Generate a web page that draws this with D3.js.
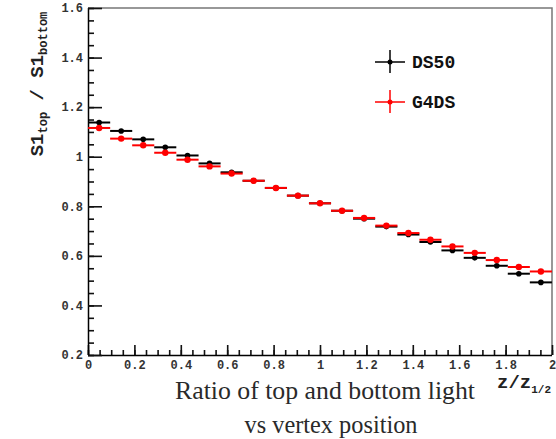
<!DOCTYPE html>
<html>
<head>
<meta charset="utf-8">
<script src="https://cdn.jsdelivr.net/npm/d3@7"></script>
<style>
  body { margin: 0; background: #fff; }
  svg { display: block; }
  .tick text { font-family: "Liberation Mono", monospace; font-weight: bold; font-size: 12px; fill: #333; }
  .tick line { stroke: #111; stroke-width: 1.6px; }
</style>
</head>
<body>
<div id="chart"></div>
<script>
// bin centres in z/z_1/2 (21 bins from 0 to 2)
const binCenters = [0.048, 0.143, 0.238, 0.333, 0.429, 0.524, 0.619, 0.714, 0.810, 0.905,
                    1.000, 1.095, 1.190, 1.286, 1.381, 1.476, 1.571, 1.667, 1.762, 1.857, 1.952];
const binHalfWidth = 1 / 21;

const ds50 = [1.138, 1.104, 1.070, 1.038, 1.005, 0.973, 0.937, 0.903, 0.874, 0.843,
              0.812, 0.782, 0.750, 0.718, 0.686, 0.656, 0.622, 0.592, 0.560, 0.528, 0.493];
const g4ds = [1.116, 1.073, 1.046, 1.016, 0.988, 0.961, 0.932, 0.903, 0.874, 0.843,
              0.812, 0.782, 0.753, 0.722, 0.692, 0.665, 0.638, 0.612, 0.583, 0.555, 0.537];

const xMajor = [0, 0.2, 0.4, 0.6, 0.8, 1, 1.2, 1.4, 1.6, 1.8, 2];
const yMajor = [0.2, 0.4, 0.6, 0.8, 1, 1.2, 1.4, 1.6];

const series = [
  { name: "DS50", color: "#000", values: ds50, r: 2.8 },
  { name: "G4DS", color: "#f00", values: g4ds, r: 3.2 }
];

const W = 556, H = 439;
const plot = { left: 88, right: 552, top: 8, bottom: 355 };

const svg = d3.select("#chart").append("svg")
    .attr("width", W)
    .attr("height", H);

const x = d3.scaleLinear().domain([0, 2]).range([plot.left, plot.right]);
const y = d3.scaleLinear().domain([0.2, 1.6]).range([plot.bottom, plot.top]);

// frame (top and right sides)
svg.append("path")
    .attr("d", `M${plot.left},${plot.top}H${plot.right}V${plot.bottom}`)
    .attr("fill", "none")
    .attr("stroke", "#777")
    .attr("stroke-width", 1.5);

// minor ticks
const fmt = d => d === 0 || d === 1 || d === 2 ? String(d) : d3.format(".1f")(d);
svg.append("g")
    .attr("transform", `translate(0,${plot.bottom})`)
    .call(d3.axisBottom(x).ticks(40).tickSize(-5).tickFormat(""))
    .call(g => g.select(".domain").remove());
svg.append("g")
    .attr("transform", `translate(${plot.left},0)`)
    .call(d3.axisLeft(y).ticks(28).tickSize(-6).tickFormat(""))
    .call(g => g.select(".domain").remove());

// major ticks + labels
const xAxis = svg.append("g")
    .attr("transform", `translate(0,${plot.bottom})`)
    .call(d3.axisBottom(x).tickValues(xMajor).tickSize(-10).tickPadding(14).tickFormat(fmt));
xAxis.select(".domain").attr("d", `M${plot.left},0.5H${plot.right}`).attr("stroke-width", 1.5);
xAxis.selectAll(".tick text").attr("dy", "0");

const yAxis = svg.append("g")
    .attr("transform", `translate(${plot.left},0)`)
    .call(d3.axisLeft(y).tickValues(yMajor).tickSize(-14).tickPadding(5).tickFormat(fmt));
yAxis.select(".domain").attr("d", `M0.5,${plot.top}V${plot.bottom}`).attr("stroke-width", 1.5);

// data: horizontal bin bars and markers
series.forEach(s => {
  const g = svg.append("g");
  g.selectAll("line")
    .data(s.values)
    .enter().append("line")
      .attr("x1", (d, i) => x(binCenters[i] - binHalfWidth))
      .attr("x2", (d, i) => x(binCenters[i] + binHalfWidth))
      .attr("y1", d => y(d))
      .attr("y2", d => y(d))
      .attr("stroke", s.color)
      .attr("stroke-width", 2);
  g.selectAll("circle")
    .data(s.values)
    .enter().append("circle")
      .attr("cx", (d, i) => x(binCenters[i]))
      .attr("cy", d => y(d))
      .attr("r", s.r)
      .attr("fill", s.color);
});

// legend
const legend = svg.append("g").attr("transform", "translate(390,62)");
series.forEach((s, i) => {
  const g = legend.append("g").attr("transform", `translate(0,${i * 40})`);
  g.append("line").attr("x1", -15).attr("x2", 15).attr("stroke", s.color).attr("stroke-width", 1.5);
  g.append("line").attr("y1", -12).attr("y2", 11).attr("stroke", s.color).attr("stroke-width", 1.5);
  g.append("circle").attr("r", 2.5).attr("fill", s.color);
  g.append("text")
      .attr("x", 22)
      .attr("dy", "0.35em")
      .attr("font-family", "Liberation Mono, monospace")
      .attr("font-weight", "bold")
      .attr("font-size", 18)
      .attr("fill", "#111")
      .text(s.name);
});

// y axis title
const yt = svg.append("text")
    .attr("transform", "translate(43,84) rotate(-90)")
    .attr("text-anchor", "middle")
    .attr("font-family", "Liberation Mono, monospace")
    .attr("font-weight", "bold")
    .attr("font-size", 19)
    .attr("fill", "#222");
yt.append("tspan").text("S1");
yt.append("tspan").attr("font-size", 12).attr("dy", 4).text("top");
yt.append("tspan").attr("dy", -4).text(" / S1");
yt.append("tspan").attr("font-size", 12).attr("dy", 4).text("bottom");

// x axis title
const xt = svg.append("text")
    .attr("x", 497)
    .attr("y", 388)
    .attr("font-family", "Liberation Mono, monospace")
    .attr("font-weight", "bold")
    .attr("font-size", 19)
    .attr("fill", "#222");
xt.append("tspan").text("z/z");
xt.append("tspan").attr("font-size", 11).attr("dy", 5).text("1/2");

// caption
const caption = ["Ratio of top and bottom light", "vs vertex position"];
const captionWidths = [300, 173];
svg.selectAll(".caption")
  .data(caption)
  .enter().append("text")
    .attr("class", "caption")
    .attr("x", (d, i) => i === 0 ? 325 : 331)
    .attr("y", (d, i) => 399 + i * 34)
    .attr("text-anchor", "middle")
    .attr("font-family", "Liberation Serif, serif")
    .attr("font-size", 26)
    .attr("textLength", (d, i) => captionWidths[i])
    .attr("lengthAdjust", "spacingAndGlyphs")
    .attr("fill", "#2a2a2a")
    .text(d => d);
</script>
</body>
</html>
